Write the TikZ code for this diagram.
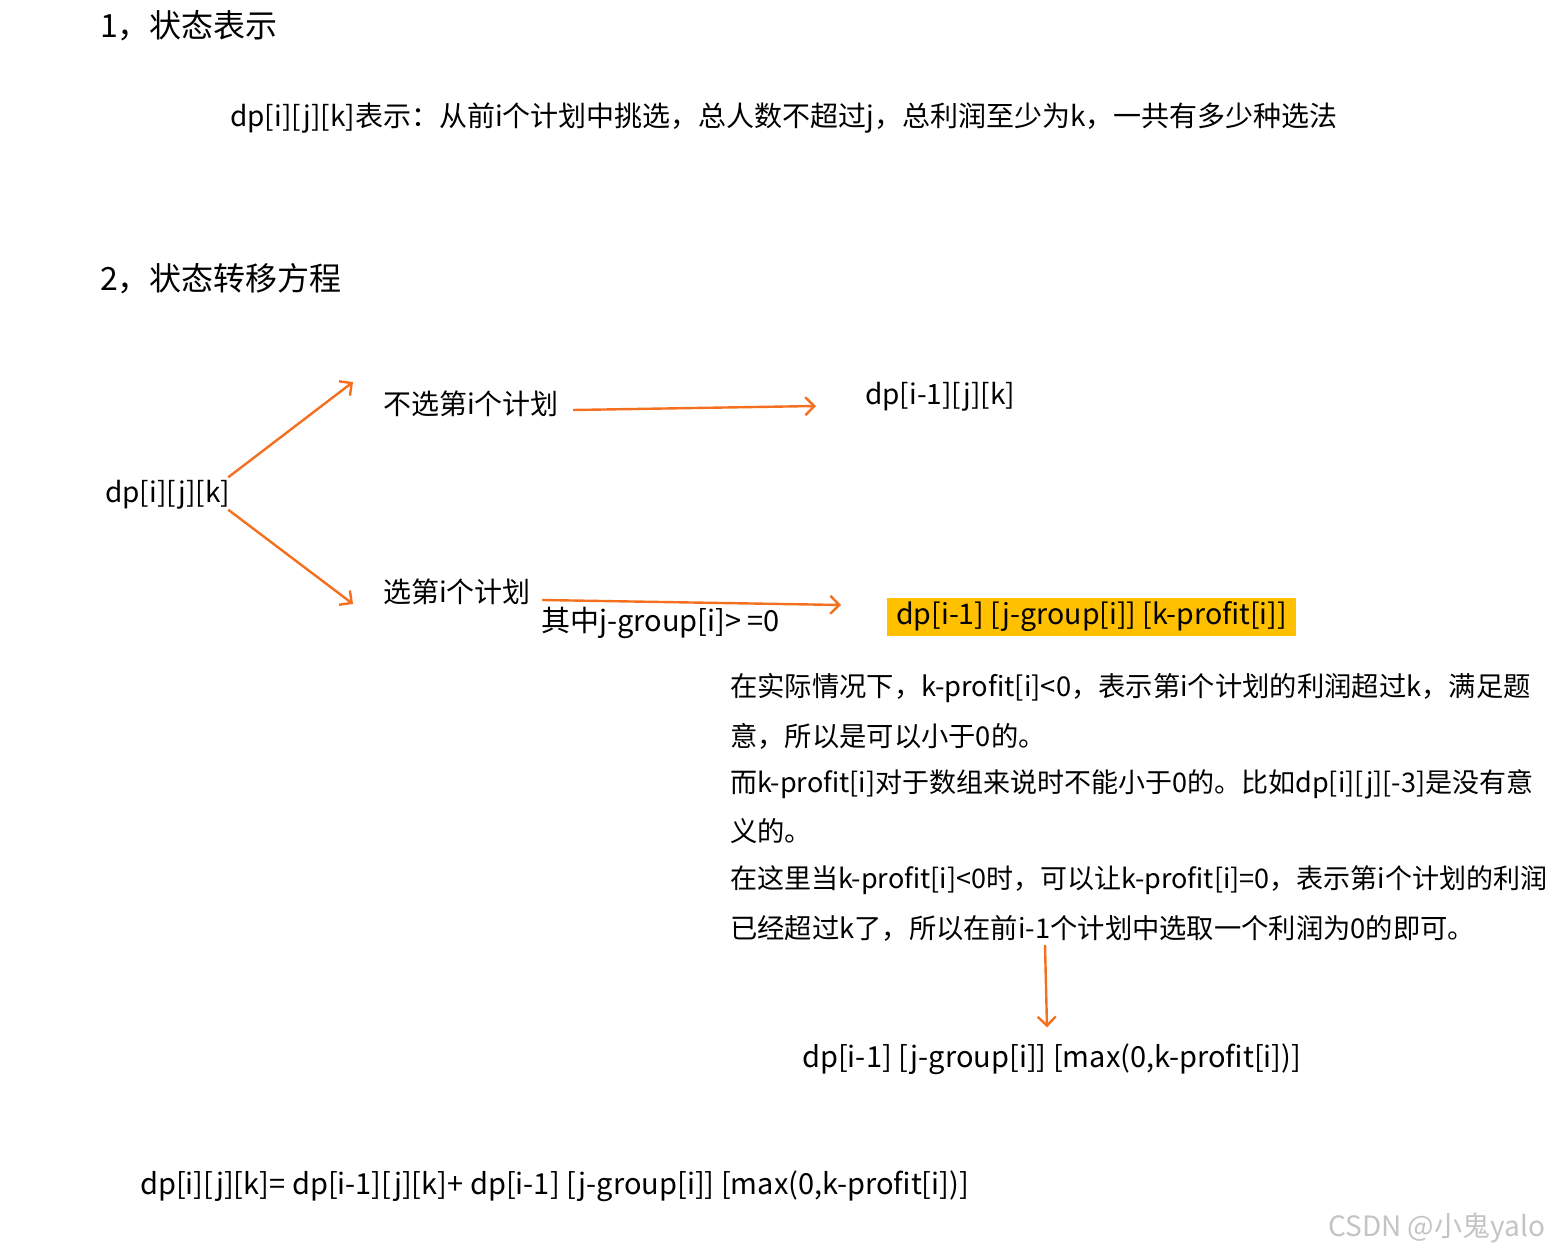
\documentclass[tikz,border=0pt]{standalone}
\usepackage{fontspec}
\setmainfont{Noto Sans CJK SC}
\usetikzlibrary{arrows.meta}
\definecolor{arr}{HTML}{F4701E}
\definecolor{hl}{HTML}{FFC000}
\definecolor{wm}{HTML}{C4C4C4}
\tikzset{
  txt/.style={anchor=west, inner sep=0pt, font=\fontsize{28}{34}\selectfont},
  wide/.style={anchor=west, inner sep=0pt, font=\fontsize{29}{34}\selectfont},
  ttl/.style={anchor=west, inner sep=0pt, font=\fontsize{32}{38}\selectfont},
  para/.style={anchor=west, inner sep=0pt, font=\fontsize{27.3}{32}\selectfont},
  paran/.style={anchor=west, inner sep=0pt, font=\fontsize{27}{32}\selectfont},
  arrowline/.style={draw=arr, line width=2.4pt, -{Straight Barb[length=9pt,width=18pt]}}
}
\begin{document}
\begin{tikzpicture}[x=1pt,y=-1pt]
\useasboundingbox[fill=white] (0,0) rectangle (1557,1255);
% headings
\node[ttl] (t1) at (100,26) {1，状态表示};
\node[txt] (def) at (230,118) {dp[i][j][k]表示：从前i个计划中挑选，总人数不超过j，总利润至少为k，一共有多少种选法};
\node[ttl] (t2) at (100,279) {2，状态转移方程};
% tree
\node[txt] (dp) at (105,495) {dp[i][j][k]};
\node[txt] (n1) at (383,404) {不选第i个计划};
\node[txt] (r1) at (865,397) {dp[i-1][j][k]};
\node[txt] (n2) at (383,592) {选第i个计划};
\node[wide] (cond) at (541,623) {其中j-group[i]> =0};
\node[wide, font=\fontsize{28.5}{34}\selectfont, fill=hl, inner xsep=9pt, inner ysep=4pt] (hlb) at (887,617) {dp[i-1] [j-group[i]] [k-profit[i]]};
% paragraph
\node[para] (p1) at (730,688) {在实际情况下，k-profit[i]<0，表示第i个计划的利润超过k，满足题};
\node[para] (p2) at (730,736) {意，所以是可以小于0的。};
\node[paran] (p3) at (730,784) {而k-profit[i]对于数组来说时不能小于0的。比如dp[i][j][-3]是没有意};
\node[para] (p4) at (730,831) {义的。};
\node[paran] (p5) at (730,880) {在这里当k-profit[i]<0时，可以让k-profit[i]=0，表示第i个计划的利润};
\node[para] (p6) at (730,928) {已经超过k了，所以在前i-1个计划中选取一个利润为0的即可。};
\node[wide] (r3) at (802,1059) {dp[i-1] [j-group[i]] [max(0,k-profit[i])]};
\node[wide] (eq) at (140,1186) {dp[i][j][k]= dp[i-1][j][k]+ dp[i-1] [j-group[i]] [max(0,k-profit[i])]};
\node[anchor=west, inner sep=0pt, text=wm, font=\fontsize{28}{32}\selectfont] (wmk) at (1328,1228) {CSDN @小鬼yalo};
% connectors
\coordinate (vs) at (1045,945);
\draw[arrowline] ([shift={(-2,-3)}]dp.north east) -- ([shift={(-30,-22)}]n1.west);
\draw[arrowline] ([shift={(-2,0)}]dp.south east) -- ([shift={(-30,12)}]n2.west);
\draw[arrowline] ([shift={(14,6)}]n1.east) -- ([shift={(-49,9)}]r1.west);
\draw[arrowline] ([shift={(11,8)}]n2.east) -- ([shift={(-46,-12)}]hlb.west);
\draw[arrowline] (vs) -- ([shift={(245,-16)}]r3.north west);
\end{tikzpicture}
\end{document}
